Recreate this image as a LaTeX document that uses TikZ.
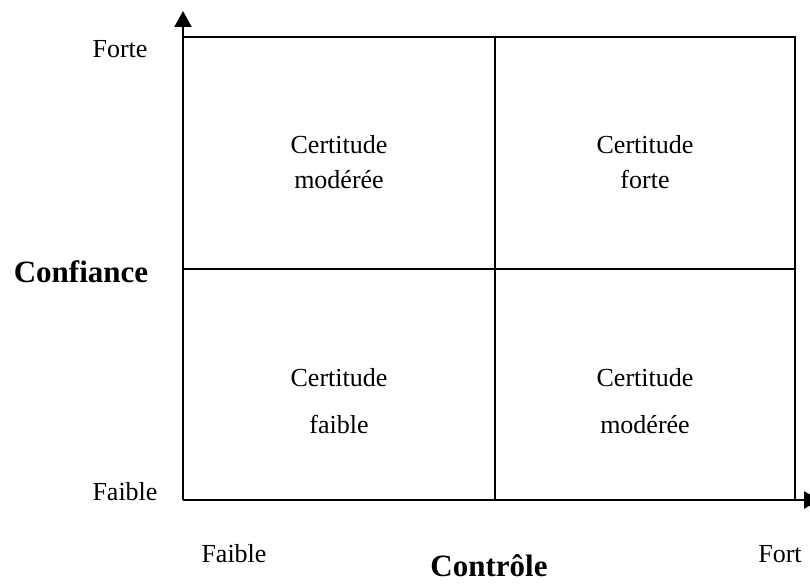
\documentclass[tikz,border=0pt]{standalone}
\usepackage{fontspec}
\setmainfont{Liberation Serif}
\usetikzlibrary{arrows.meta}
\begin{document}
\begin{tikzpicture}[x=1pt,y=-1pt,
  lbl/.style={anchor=base,inner sep=0pt,font=\fontsize{26}{30}\selectfont},
  axlbl/.style={anchor=base,inner sep=0pt,font=\fontsize{31}{36}\selectfont\bfseries},
  grid/.style={line width=2pt},
  axis/.style={line width=2pt,-{Triangle[length=16pt,width=17pt]}}]
\useasboundingbox (0,0) rectangle (810,583);
\coordinate (O) at (183,500);
\coordinate (TL) at (183,37);
\coordinate (BR) at (795,500);
\coordinate (yTip) at (183,11);
\coordinate (xTip) at (820,500);
\coordinate (mT) at (495,37);
\coordinate (mB) at (495,500);
\coordinate (mL) at (183,269);
\coordinate (mR) at (795,269);
\draw[grid] (TL) -- (795,37) -- (BR);
\draw[grid] (mT) -- (mB);
\draw[grid] (mL) -- (mR);
\draw[axis] (O) -- (yTip);
\draw[axis] (O) -- (xTip);
\node[lbl] (forte) at (120,58) {Forte};
\node[lbl] (faibleY) at (125,500) {Faible};
\node[axlbl] (conf) at (81,282) {Confiance};
\node[lbl] (faibleX) at (234,562) {Faible};
\node[lbl] (fort) at (780,562) {Fort};
\node[axlbl] (ctrl) at (489,576) {Contrôle};
\node[lbl] (c1a) at (339,153) {Certitude};
\node[lbl] (c1b) at (339,188) {modérée};
\node[lbl] (c2a) at (645,153) {Certitude};
\node[lbl] (c2b) at (645,188) {forte};
\node[lbl] (c3a) at (339,386) {Certitude};
\node[lbl] (c3b) at (339,433) {faible};
\node[lbl] (c4a) at (645,386) {Certitude};
\node[lbl] (c4b) at (645,433) {modérée};
\end{tikzpicture}
\end{document}
